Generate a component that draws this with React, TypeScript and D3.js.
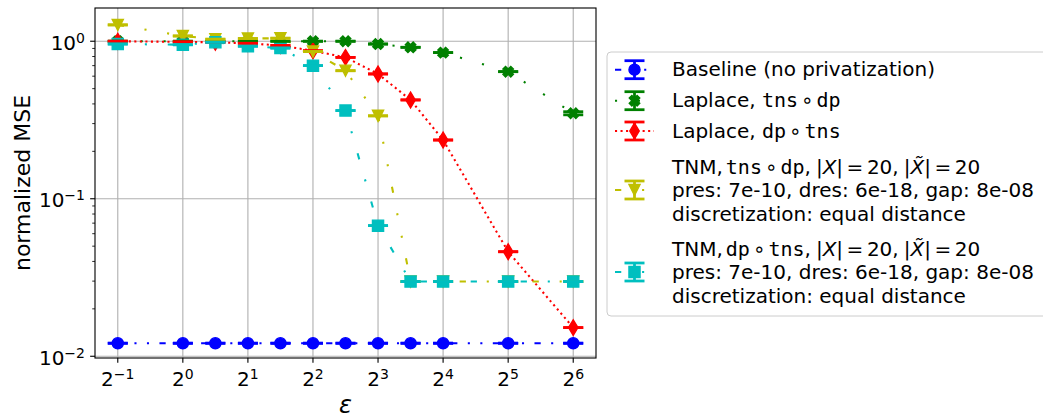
import React from "react";
import * as d3 from "d3";

// ---------------- data ----------------
const epsilon = [0.5, 1, 1.414, 2, 2.828, 4, 5.657, 8, 11.314, 16, 32, 64];
const baselineMSE = [0.0121, 0.0121, 0.0121, 0.0121, 0.0121, 0.0121, 0.0121, 0.0121, 0.0121, 0.0121, 0.0121, 0.0121];
const laplaceTnsDp = [1.0, 1.0, 1.0, 1.0, 1.0, 1.0, 1.0, 0.96, 0.915, 0.847, 0.641, 0.349];
const laplaceDpTns = [1.0, 0.99, 0.985, 0.97, 0.94, 0.87, 0.79, 0.62, 0.424, 0.236, 0.0461, 0.0152];
const tnmTnsDp = [1.27, 1.08, 1.03, 1.04, 1.045, 0.86, 0.65, 0.336, 0.0298, 0.0298, 0.0298, 0.0298];
const tnmDpTns = [0.96, 0.95, 0.985, 0.93, 0.905, 0.7, 0.363, 0.0675, 0.0298, 0.0298, 0.0298, 0.0298];
const baselineErr = [0, 0, 0, 0, 0, 0, 0, 0, 0, 0, 0, 0];
const laplaceTnsDpErr = [0, 0, 0, 0, 0, 0, 0, 0, 0, 0, 0, 0.008];
const laplaceDpTnsErr = [0, 0, 0, 0, 0, 0, 0, 0, 0, 0, 0, 0];
const tnmTnsDpErr = [0, 0, 0, 0, 0, 0, 0, 0, 0, 0, 0, 0];
const tnmDpTnsErr = [0, 0, 0, 0, 0, 0, 0, 0, 0, 0, 0, 0];
const xTickExponents = ["−1", "0", "1", "2", "3", "4", "5", "6"];
const xTickValues = [0.5, 1, 2, 4, 8, 16, 32, 64];
const yTickExponents = ["−2", "−1", "0"];
const yTickValues = [0.01, 0.1, 1];
const yMinorValues = [0.02, 0.03, 0.04, 0.05, 0.06, 0.07, 0.08, 0.09, 0.2, 0.3, 0.4, 0.5, 0.6, 0.7, 0.8, 0.9];

// ---------------- style ----------------
const PX = 100 / 72;
const LW = 1.5 * PX;
const MS = 8 * PX;
const MEW = 1 * PX;
const ELW = 2 * PX;
const CAP = 10;
const FONT = "DejaVu Sans";
const MONO = "DejaVu Sans Mono";
const FS = 20;
const LABEL_FS = 22;
const dash = (arr: number[]) => arr.map((v) => (v * LW).toFixed(2)).join(",");

const series = [
  { values: baselineMSE, err: baselineErr, color: "#0000ff", marker: "o", dash: dash([3, 5, 1, 5, 1, 5]) },
  { values: laplaceTnsDp, err: laplaceTnsDpErr, color: "#008000", marker: "X", dash: dash([1, 10]) },
  { values: laplaceDpTns, err: laplaceDpTnsErr, color: "#ff0000", marker: "d", dash: dash([1, 1.65]) },
  { values: tnmTnsDp, err: tnmTnsDpErr, color: "#bfbf00", marker: "v", dash: dash([3, 10, 1, 10, 1, 10]) },
  { values: tnmDpTns, err: tnmDpTnsErr, color: "#00bfbf", marker: "s", dash: dash([3, 10, 1, 10]) },
];

const PLUS_PTS = [[-1, -3], [-1, -1], [-3, -1], [-3, 1], [-1, 1], [-1, 3], [1, 3], [1, 1], [3, 1], [3, -1], [1, -1], [1, -3]];

function markerPath(type: string, s: number): string {
  const h = s / 2;
  switch (type) {
    case "o":
      return `M${h},0A${h},${h} 0 1,1 ${-h},0A${h},${h} 0 1,1 ${h},0Z`;
    case "s":
      return `M${-h},${-h}H${h}V${h}H${-h}Z`;
    case "v":
      return `M0,${h}L${-h},${-h}L${h},${-h}Z`;
    case "d": {
      const d = s * Math.SQRT1_2;
      return `M0,${-d}L${0.6 * d},0L0,${d}L${-0.6 * d},0Z`;
    }
    case "X": {
      const a = s / 6;
      const c = Math.SQRT1_2;
      return (
        "M" +
        PLUS_PTS.map((p) => {
          const px = p[0] * a, py = p[1] * a;
          return `${(px - py) * c},${(px + py) * c}`;
        }).join("L") +
        "Z"
      );
    }
  }
  return "";
}

const legendRows = [
  { cy: 69.7, idx: 0 },
  { cy: 100.7, idx: 1 },
  { cy: 131, idx: 2 },
  { cy: 190, idx: 3 },
  { cy: 272, idx: 4 },
];

export default function App() {
  const L = 95, R = 596, T = 8, B = 358;
  const x = d3.scaleLog().base(2).domain([Math.pow(2, -1.35), Math.pow(2, 6.35)]).range([L, R]);
  const y = d3.scaleLog().domain([Math.pow(10, -2.011), Math.pow(10, 0.211)]).range([B, T]);
  const line = d3
    .line<number>()
    .x((_, i) => x(epsilon[i]))
    .y((d) => y(d));

  const legendTextX = 672;
  const hx0 = 615, hx1 = 654, hcx = 634.5;

  const compose = (a: string, b: string) => (
    <>
      <tspan fontFamily={MONO}>{a}</tspan>
      <tspan dx={3}>∘</tspan>
      <tspan dx={3} fontFamily={MONO}>{b}</tspan>
    </>
  );

  return (
    <svg
      width={1043}
      height={419}
      style={{ position: "absolute", left: 0, top: 0, background: "#fff" }}
      fontFamily={FONT}
    >
      <rect x={0} y={0} width={1043} height={419} fill="#fff" />
      {/* grid */}
      <g stroke="#b0b0b0" strokeWidth={0.8 * PX}>
        {xTickValues.map((v, i) => (
          <line key={"gx" + i} x1={x(v)} x2={x(v)} y1={T} y2={B} />
        ))}
        {yTickValues.map((v, i) => (
          <line key={"gy" + i} x1={L} x2={R} y1={y(v)} y2={y(v)} />
        ))}
      </g>
      {/* lines + markers */}
      {series.map((s, si) => (
        <g key={"s" + si}>
          <path d={line(s.values) || ""} fill="none" stroke={s.color} strokeWidth={LW} strokeDasharray={s.dash} />
          {s.values.map((v, i) => (
            <path
              key={i}
              d={markerPath(s.marker, MS)}
              transform={`translate(${x(epsilon[i])},${y(v)})`}
              fill={s.color}
              stroke={s.color}
              strokeWidth={MEW}
            />
          ))}
        </g>
      ))}
      {/* error bars and caps */}
      {series.map((s, si) => (
        <g key={"e" + si} stroke={s.color} strokeWidth={ELW}>
          {s.values.map((v, i) => {
            const cx = x(epsilon[i]);
            const y1 = y(v + s.err[i]);
            const y2 = y(Math.max(v - s.err[i], 1e-6));
            return (
              <g key={i}>
                <line x1={cx} x2={cx} y1={y1} y2={y2} />
                <line x1={cx - CAP} x2={cx + CAP} y1={y1} y2={y1} />
                <line x1={cx - CAP} x2={cx + CAP} y1={y2} y2={y2} />
              </g>
            );
          })}
        </g>
      ))}
      {/* spines */}
      <rect x={L} y={T} width={R - L} height={B - T} fill="none" stroke="#000" strokeWidth={0.8 * PX} />
      {/* x ticks */}
      {xTickValues.map((v, i) => (
        <g key={"xt" + i}>
          <line x1={x(v)} x2={x(v)} y1={B} y2={B + 3.5 * PX} stroke="#000" strokeWidth={0.8 * PX} />
          <text x={x(v)} y={386} textAnchor="middle" fontSize={FS}>
            2<tspan fontSize={FS * 0.7} dy={-7.5}>{xTickExponents[i]}</tspan>
          </text>
        </g>
      ))}
      {/* y ticks */}
      {yTickValues.map((v, i) => (
        <g key={"yt" + i}>
          <line x1={L - 3.5 * PX} x2={L} y1={y(v)} y2={y(v)} stroke="#000" strokeWidth={0.8 * PX} />
          <text x={85} y={y(v) + 8.5} textAnchor="end" fontSize={FS}>
            10<tspan fontSize={FS * 0.7} dy={-7}>{yTickExponents[i]}</tspan>
          </text>
        </g>
      ))}
      {yMinorValues.map((v, i) => (
        <line key={"ym" + i} x1={L - 2 * PX} x2={L} y1={y(v)} y2={y(v)} stroke="#000" strokeWidth={0.6 * PX} />
      ))}
      {/* axis labels */}
      <text transform="translate(30,183) rotate(-90)" textAnchor="middle" fontSize={LABEL_FS}>
        normalized MSE
      </text>
      <text x={(L + R) / 2} y={413} textAnchor="middle" fontSize={LABEL_FS + 2} fontStyle="italic">
        ε
      </text>
      {/* legend */}
      <rect x={607} y={52} width={460} height={264} rx={4} fill="#fff" fillOpacity={0.8} stroke="#cccccc" strokeWidth={1} />
      {legendRows.map((r) => {
        const s = series[r.idx];
        return (
          <g key={"lg" + r.idx}>
            <line x1={hx0} x2={hx1} y1={r.cy} y2={r.cy} stroke={s.color} strokeWidth={LW} strokeDasharray={s.dash} />
            <g stroke={s.color} strokeWidth={ELW}>
              <line x1={hcx} x2={hcx} y1={r.cy - 9} y2={r.cy + 9} />
              <line x1={hcx - CAP} x2={hcx + CAP} y1={r.cy - 9} y2={r.cy - 9} />
              <line x1={hcx - CAP} x2={hcx + CAP} y1={r.cy + 9} y2={r.cy + 9} />
            </g>
            <path d={markerPath(s.marker, MS)} transform={`translate(${hcx},${r.cy})`} fill={s.color} stroke={s.color} strokeWidth={MEW} />
          </g>
        );
      })}
      <g fontSize={FS} fill="#000">
        <text x={legendTextX} y={76}>Baseline (no privatization)</text>
        <text x={legendTextX} y={107}>
          <tspan>Laplace, </tspan>
          {compose("tns", "dp")}
        </text>
        <text x={legendTextX} y={137.5}>
          <tspan>Laplace, </tspan>
          {compose("dp", "tns")}
        </text>
        {[174, 256].map((by, k) => (
          <g key={"tnm" + k}>
            <text x={legendTextX} y={by}>
              <tspan>TNM,</tspan>
              <tspan dx={3} fontFamily={MONO}>{k === 0 ? "tns" : "dp"}</tspan>
              <tspan dx={3}>∘</tspan>
              <tspan dx={3} fontFamily={MONO}>{k === 0 ? "dp" : "tns"}</tspan>
              <tspan>,</tspan>
              <tspan dx={5}>|</tspan>
              <tspan fontStyle="italic">X</tspan>
              <tspan>|</tspan>
              <tspan dx={3.5}>=</tspan>
              <tspan dx={3.5}>20,</tspan>
              <tspan dx={5}>|</tspan>
              <tspan fontStyle="italic">X̃</tspan>
              <tspan>|</tspan>
              <tspan dx={3.5}>=</tspan>
              <tspan dx={3.5}>20</tspan>
            </text>
            <text x={legendTextX} y={by + 23.3}>pres: 7e-10, dres: 6e-18, gap: 8e-08</text>
            <text x={legendTextX} y={by + 46.6}>discretization: equal distance</text>
          </g>
        ))}
      </g>
    </svg>
  );
}
